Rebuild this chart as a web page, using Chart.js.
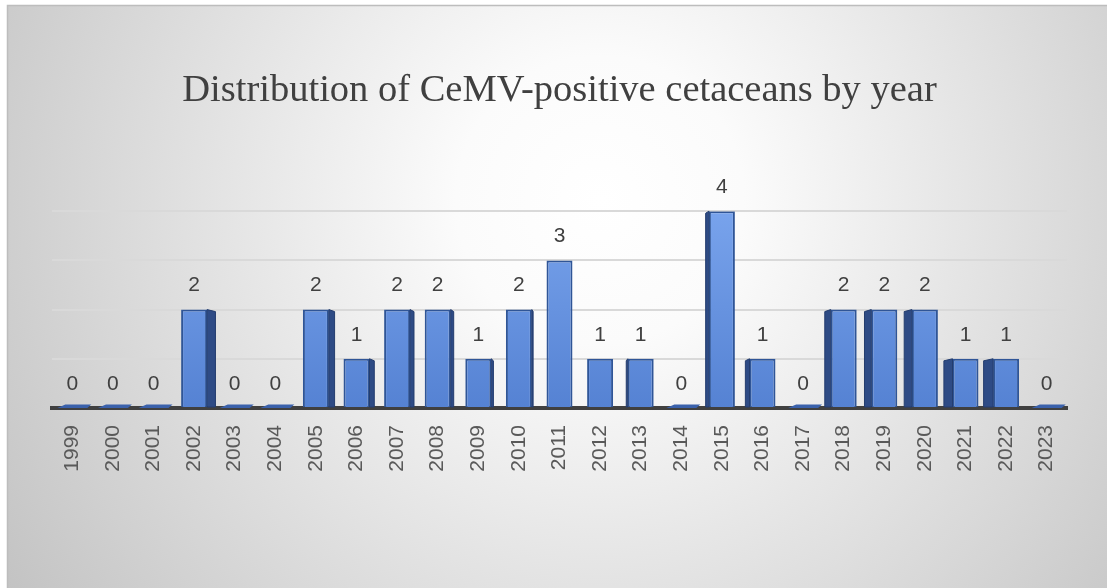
<!DOCTYPE html>
<html>
<head>
<meta charset="utf-8">
<script src="https://cdn.jsdelivr.net/npm/chart.js@4"></script>
<style>
  html, body { margin: 0; padding: 0; background: #fff; }
  canvas { display: block; }
</style>
</head>
<body>
<canvas id="myChart" width="1107" height="588"></canvas>
<script>
const years = ['1999', '2000', '2001', '2002', '2003', '2004', '2005', '2006', '2007',
	'2008', '2009', '2010', '2011', '2012', '2013', '2014', '2015', '2016', '2017',
	'2018', '2019', '2020', '2021', '2022', '2023'];
const positives = [0, 0, 0, 2, 0, 0, 2, 1, 2, 2, 1, 2, 3, 1, 1, 0, 4, 1, 0, 2, 2, 2, 1, 1, 0];
const gridMax = 4;

// gray radial backdrop behind the whole chart
const backdrop = {
	id: 'backdrop',
	beforeDraw(chart) {
		const { ctx, width, height } = chart;
		ctx.save();
		ctx.fillStyle = '#ffffff';
		ctx.fillRect(0, 0, width, height);
		const g = ctx.createRadialGradient(600, 200, 0, 600, 200, 720);
		g.addColorStop(0, '#ffffff');
		g.addColorStop(0.2, '#fbfbfb');
		g.addColorStop(1, '#c2c2c2');
		ctx.fillStyle = g;
		ctx.fillRect(7, 5, width - 7, height - 5);
		ctx.strokeStyle = '#bdbdbd';
		ctx.lineWidth = 1.5;
		ctx.beginPath();
		ctx.moveTo(7.5, height);
		ctx.lineTo(7.5, 5.5);
		ctx.lineTo(width, 5.5);
		ctx.stroke();
		ctx.restore();
	}
};

// dark side faces, flat slabs for zero years and the value labels
const columns3d = {
	id: 'columns3d',
	afterDatasetsDraw(chart) {
		const { ctx, chartArea } = chart;
		const meta = chart.getDatasetMeta(0);
		const mid = (chartArea.left + chartArea.right) / 2 + 15;
		ctx.save();
		meta.data.forEach((bar, i) => {
			const half = bar.width / 2;
			const side = (mid - bar.x) * 0.022;
			if (positives[i] === 0) {
				ctx.fillStyle = '#3a61ab';
				ctx.beginPath();
				ctx.moveTo(bar.x - half - 2, bar.base);
				ctx.lineTo(bar.x - half + 6, bar.base - 3.5);
				ctx.lineTo(bar.x + half + 6, bar.base - 3.5);
				ctx.lineTo(bar.x + half + 2, bar.base);
				ctx.closePath();
				ctx.fill();
			} else if (Math.abs(side) > 0.8) {
				const x0 = side > 0 ? bar.x + half : bar.x - half;
				ctx.fillStyle = '#2e4b85';
				ctx.strokeStyle = '#243d6e';
				ctx.lineWidth = 1;
				ctx.beginPath();
				ctx.moveTo(x0, bar.y);
				ctx.lineTo(x0 + side, bar.y + 2);
				ctx.lineTo(x0 + side, bar.base);
				ctx.lineTo(x0, bar.base);
				ctx.closePath();
				ctx.fill();
				ctx.stroke();
			}
		});
		ctx.fillStyle = '#404040';
		ctx.font = '21px "Liberation Sans", Arial, sans-serif';
		ctx.textAlign = 'center';
		ctx.textBaseline = 'middle';
		meta.data.forEach((bar, i) => {
			ctx.fillText(String(positives[i]), bar.x, bar.y - 24);
		});
		ctx.restore();
	}
};

function faceColor(context) {
	const area = context.chart.chartArea;
	if (!area) return '#5a87d6';
	const g = context.chart.ctx.createLinearGradient(0, area.top, 0, area.bottom);
	g.addColorStop(0, '#78a3ec');
	g.addColorStop(1, '#5582d3');
	return g;
}

new Chart(document.getElementById('myChart'), {
	type: 'bar',
	data: {
		labels: years,
		datasets: [{
			data: positives,
			backgroundColor: faceColor,
			borderColor: '#2f5597',
			borderWidth: 2,
			borderSkipped: 'bottom',
			barPercentage: 0.64,
			categoryPercentage: 1
		}]
	},
	options: {
		responsive: false,
		animation: false,
		layout: { padding: { left: 52, right: 40, top: 0, bottom: 0 } },
		plugins: {
			legend: { display: false },
			tooltip: { enabled: false },
			title: {
				display: true,
				text: 'Distribution of CeMV-positive cetaceans by year',
				color: '#404040',
				font: { family: '"Liberation Serif", "DejaVu Serif", serif', size: 38.5, weight: 'normal' },
				padding: { top: 68, bottom: 97 }
			}
		},
		scales: {
			x: {
				grid: { display: false, drawTicks: false },
				border: { display: true, color: '#404040', width: 4 },
				ticks: {
					minRotation: 90,
					maxRotation: 90,
					padding: 17,
					color: '#595959',
					font: { family: '"Liberation Sans", Arial, sans-serif', size: 21 }
				},
				afterFit(scale) { scale.height = 180; }
			},
			y: {
				min: 0,
				max: gridMax,
				ticks: { display: false, stepSize: 1 },
				grid: { color: '#d9d9d9', lineWidth: 2, drawTicks: false },
				border: { display: false }
			}
		}
	},
	plugins: [backdrop, columns3d]
});
</script>
</body>
</html>
